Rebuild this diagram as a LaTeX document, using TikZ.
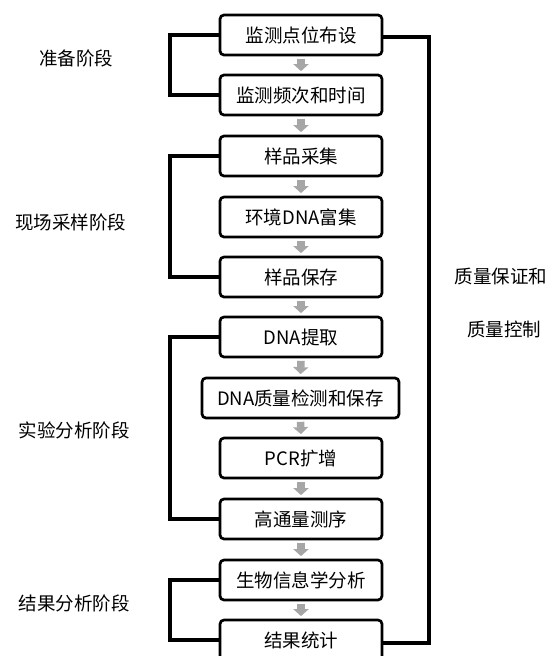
\documentclass[tikz,border=0pt]{standalone}
\usepackage{fontspec}
\setmainfont{Noto Sans CJK SC}
\usetikzlibrary{arrows.meta,calc}
\begin{document}
\begin{tikzpicture}[x=1pt,y=-1pt,
  stepbox/.style={draw=black,line width=2.7pt,rounded corners=4pt,minimum width=162pt,minimum height=40pt,inner sep=0pt,font=\fontsize{18.5}{20}\selectfont,fill=white},
  widebox/.style={stepbox,minimum width=197pt},
  garrow/.style={draw={rgb,255:red,166;green,166;blue,166},line width=7.5pt,-{Triangle[width=15pt,length=7pt]}},
  bracket/.style={draw=black,line width=3.2pt},
  lab/.style={font=\fontsize{18.5}{20}\selectfont,inner sep=0pt}]
\useasboundingbox (0,0) rectangle (555,656);
\node[stepbox] (b1) at (301,35) {监测点位布设};
\node[stepbox] (b2) at (301,95) {监测频次和时间};
\node[stepbox] (b3) at (301,156) {样品采集};
\node[stepbox] (b4) at (301,217) {环境DNA富集};
\node[stepbox] (b5) at (301,277) {样品保存};
\node[stepbox] (b6) at (301,337) {DNA提取};
\node[widebox] (b7) at (300.5,398) {DNA质量检测和保存};
\node[stepbox] (b8) at (301,458) {PCR扩增};
\node[stepbox] (b9) at (301,519) {高通量测序};
\node[stepbox] (b10) at (301,580) {生物信息学分析};
\node[stepbox] (b11) at (301,640) {结果统计};
\foreach \a/\b in {b1/b2,b2/b3,b3/b4,b4/b5,b5/b6,b6/b7,b7/b8,b8/b9,b9/b10,b10/b11}{
  \draw[garrow] ($(\a.south)+(0,2.5)$) -- ($(\b.north)+(0,-2.5)$);
}
\coordinate (c1) at (170,0);
\draw[bracket] (b1.west) -| (c1 |- b1.west) |- (b2.west);
\draw[bracket] (b3.west) -| (c1 |- b3.west) |- (b5.west);
\draw[bracket] (b6.west) -| (c1 |- b6.west) |- (b9.west);
\draw[bracket] (b10.west) -| (c1 |- b10.west) |- (b11.west);
\coordinate (c2) at (429,0);
\draw[bracket] ([yshift=-2pt]b1.east) -| (c2 |- b1.east) |- ([yshift=-3pt]b11.east);
\node[lab] (l1) at (76,58) {准备阶段};
\node[lab] (l2) at (71,222) {现场采样阶段};
\node[lab] (l3) at (74,430) {实验分析阶段};
\node[lab] (l4) at (74,603) {结果分析阶段};
\node[lab] (l5) at (501,276) {质量保证和};
\node[lab] (l6) at (504,329) {质量控制};
\end{tikzpicture}
\end{document}
